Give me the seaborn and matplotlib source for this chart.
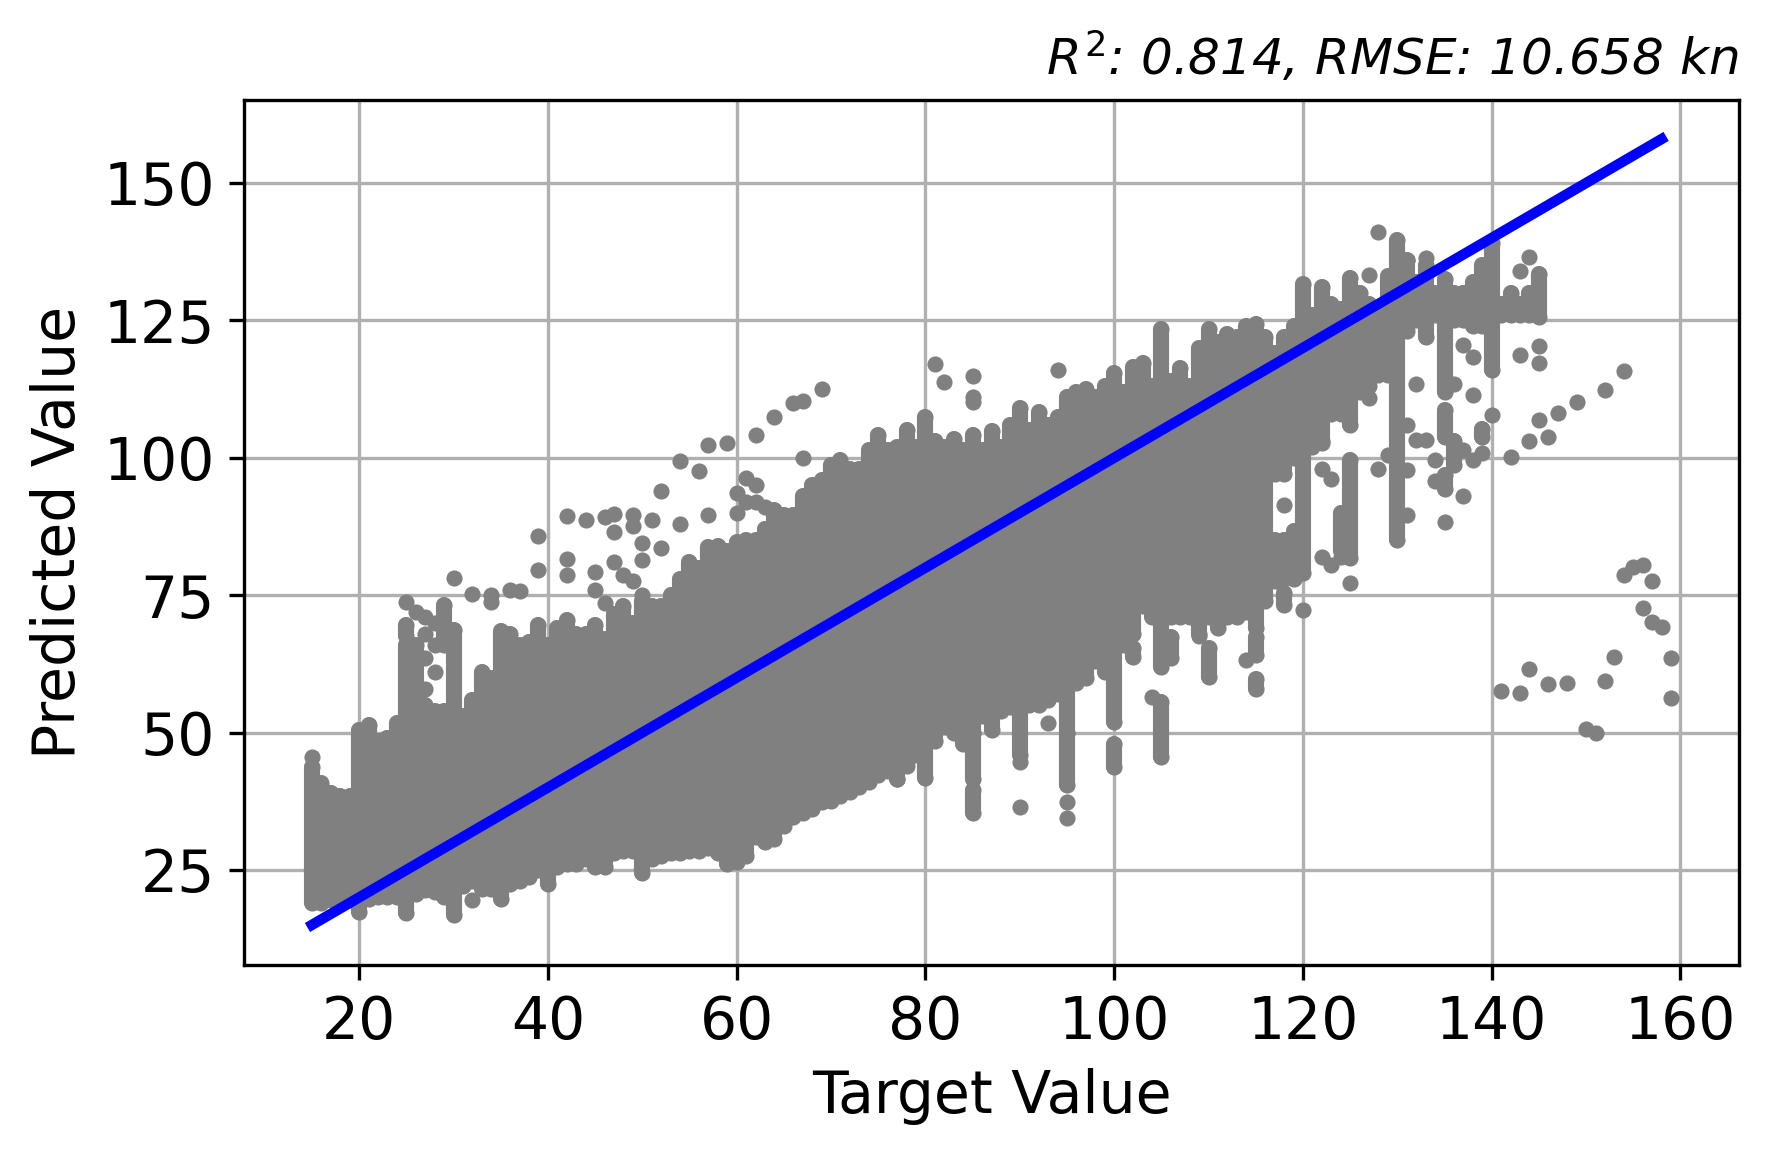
import matplotlib
matplotlib.use("Agg")
import matplotlib.pyplot as plt
import seaborn as sns
import pandas as pd

# Extent of the solid cloud at each target value
core_x = list(range(15, 146))
core_low = [19, 19, 19.5, 19.5, 19.5, 17.4, 19.8, 20, 20, 20,
            17.1, 20.7, 21.3, 21, 20, 16.8, 22, 23, 21.5, 21.5,
            19.8, 22.5, 23, 23.8, 25, 22.5, 25.5, 26, 26, 27,
            25.5, 25.5, 28, 28.5, 28.5, 24.4, 27, 27.5, 28, 28,
            28.5, 28.5, 29, 28, 26, 26.5, 27.5, 31, 30, 30.7,
            33, 34.7, 35.3, 36, 37.4, 37.5, 38.5, 39.2, 40, 41,
            42.3, 43, 41.5, 44, 46, 41.7, 48.5, 51, 50, 48,
            50, 53, 50.5, 54, 54.7, 46, 55, 55, 56, 57,
            50, 59, 60, 63, 61, 52, 66, 68, 73, 71,
            62, 71, 71, 71, 68, 71, 69, 71, 71, 72,
            69, 74, 97, 97, 100, 79, 102, 103, 108, 108,
            106, 112, 113, 115, 115, 85, 123, 125, 122, 126,
            112, 125, 125, 124, 124, 116, 126, 126, 126, 126, 125.6]
core_high = [43.7, 40.8, 39, 38.5, 38.5, 50.5, 51.3, 48.5, 49, 51.7,
             66, 66, 55, 54, 54, 68.6, 53, 56, 61, 60,
             68.5, 68, 66, 66.5, 69.5, 66, 69, 70.5, 68, 68,
             69.5, 67, 71.5, 73, 70, 74, 73, 73, 75, 78,
             81, 80, 83.8, 84, 83, 84.7, 85, 85, 87, 90.5,
             89.5, 89.5, 93, 95, 96, 98.7, 99.6, 98, 98, 101.4,
             104.1, 101.5, 102, 105, 102, 107.5, 103, 102, 103.5, 101.5,
             104.1, 101.5, 104.8, 102, 106, 109, 105, 108.4, 106, 107.5,
             111, 112, 112.5, 111, 113, 115.4, 112, 116.6, 117.2, 113,
             123.4, 114, 116.3, 113, 120, 123.4, 121, 122.5, 122, 124,
             124.4, 122, 119, 122, 124, 131.6, 126, 131, 128, 127,
             132.8, 130, 128, 126, 133, 139.7, 136, 132, 135, 130,
             132.5, 130, 130, 132, 135, 139, 128, 130, 128, 130, 133.5]

# Separate vertical runs of points below or above the solid cloud
run_x = [25, 29, 85, 85, 95, 100, 102, 105, 106, 110, 115, 115, 117, 118, 118, 119, 124, 125, 135, 135, 136, 139]
run_low = [67.5, 66, 41.5, 35.3, 40.5, 43.8, 63.8, 45.6, 63.5, 60.1, 57.9, 64.1, 78, 73.2, 78, 78, 83, 81.7, 103.7, 94.3, 98.6, 103.7]
run_high = [69.5, 73.2, 50, 39.5, 50, 48, 65.3, 55.6, 67.3, 65.4, 59.7, 67.3, 85, 75.4, 85, 86.7, 90, 99.6, 108.7, 96.8, 103, 105.2]

# Individually visible points
point_x = [15, 25, 26, 27, 27, 27, 27, 28, 28, 28, 30, 32, 34, 34, 36, 37, 39, 39, 42, 42, 42, 44, 45, 45,
           46, 46, 47, 47, 47, 48, 49, 49, 49, 50, 50, 50, 51, 52, 52, 54, 54, 57, 56, 57, 59, 60, 60, 61, 61,
           62, 62, 62, 63, 64, 66, 67, 67, 69, 81, 82, 85, 85, 85, 94, 32, 77, 90, 90, 93, 95, 95, 104,
           114, 109, 117, 118, 120, 122, 122, 122, 123, 123, 125, 124, 128, 127, 131, 131, 131, 129,
           132, 132, 133, 134, 134, 135, 136, 137, 137, 137, 138, 138, 138, 139, 140, 143, 145, 145,
           144, 143, 128, 127, 131, 133, 159, 159, 158, 157, 157, 156, 156, 155, 154, 154, 153, 152,
           152, 151, 150, 149, 148, 147, 146, 146, 145, 144, 144, 143, 142, 141]
point_y = [45.6, 73.8, 72, 71, 68, 63.5, 58, 70, 66, 61, 78.2, 75.2, 75, 73.8, 76, 75.8, 85.8, 79.5, 89.4, 81.5, 78.7, 88.7, 79.3, 76,
           89.3, 73.5, 89.8, 86.5, 81, 78.7, 89.5, 87.5, 77.5, 84.4, 81.4, 75, 88.7, 83.5, 94, 88, 99.5, 89.6, 97.6, 102.3, 102.6, 93.5, 90, 96.3, 92,
           104.1, 95, 92, 91, 107.4, 109.9, 110.3, 99.9, 112.6, 117, 113.7, 114.9, 111, 110.2, 115.9, 19.5, 41.5, 44.7, 36.5, 51.7, 37.4, 34.4, 56.5,
           63.2, 67.6, 77.6, 91.4, 72.3, 102.7, 98, 82, 96.1, 80.5, 77.3, 82, 97.9, 110.9, 105.9, 97.7, 89.6, 100.5,
           113.4, 103.2, 103.2, 99.6, 95.8, 88.3, 113.4, 120.6, 101.5, 93, 118.4, 111.5, 99.6, 100.8, 107.8, 118.7, 120.3, 117.3,
           136.5, 133.9, 141, 133.3, 136, 136.3, 63.5, 56.2, 69.2, 77.6, 70.1, 80.5, 72.6, 80.1, 78.6, 115.8, 63.8, 59.3,
           112.3, 50, 50.7, 110.1, 59.1, 108.1, 58.9, 103.7, 106.8, 103, 61.5, 57.2, 100.2, 57.6]

identity = [15, 158]
xticks = [20, 40, 60, 80, 100, 120, 140, 160]
yticks = [25, 50, 75, 100, 125, 150]

points = pd.DataFrame({"target": point_x, "predicted": point_y})
ends = pd.DataFrame({"target": core_x + run_x + core_x + run_x,
                     "predicted": core_low + run_low + core_high + run_high})
line = pd.DataFrame({"target": identity, "predicted": identity})

fig = plt.figure(figsize=(1769 / 300, 1154 / 300), dpi=300)
ax = fig.add_axes([244 / 1769, 1 - 965 / 1154, (1739 - 244) / 1769, (965 - 100) / 1154])

ax.vlines(core_x + run_x, core_low + run_low, core_high + run_high,
          colors="gray", linewidth=3.87, capstyle="round", zorder=2)
sns.scatterplot(data=ends, x="target", y="predicted", color="gray", s=15, linewidth=0, ax=ax, zorder=2)
sns.scatterplot(data=points, x="target", y="predicted", color="gray", s=15, linewidth=0, ax=ax, zorder=2)
sns.lineplot(data=line, x="target", y="predicted", color="blue", linewidth=2.5, ax=ax, zorder=3)

ax.set_xlim(7.8, 166.2)
ax.set_ylim(7.7, 165.1)
ax.set_xticks(xticks)
ax.set_yticks(yticks)
ax.tick_params(labelsize=14)
ax.grid(True, color="#b0b0b0", linewidth=0.8)
ax.set_axisbelow(True)
ax.set_xlabel("Target Value", fontsize=14)
ax.set_ylabel("Predicted Value", fontsize=14)
ax.set_title(r"$R^2$: 0.814, RMSE: 10.658 kn", loc="right", fontsize=12, style="italic", pad=6)

fig.savefig("out.png", dpi=300)
